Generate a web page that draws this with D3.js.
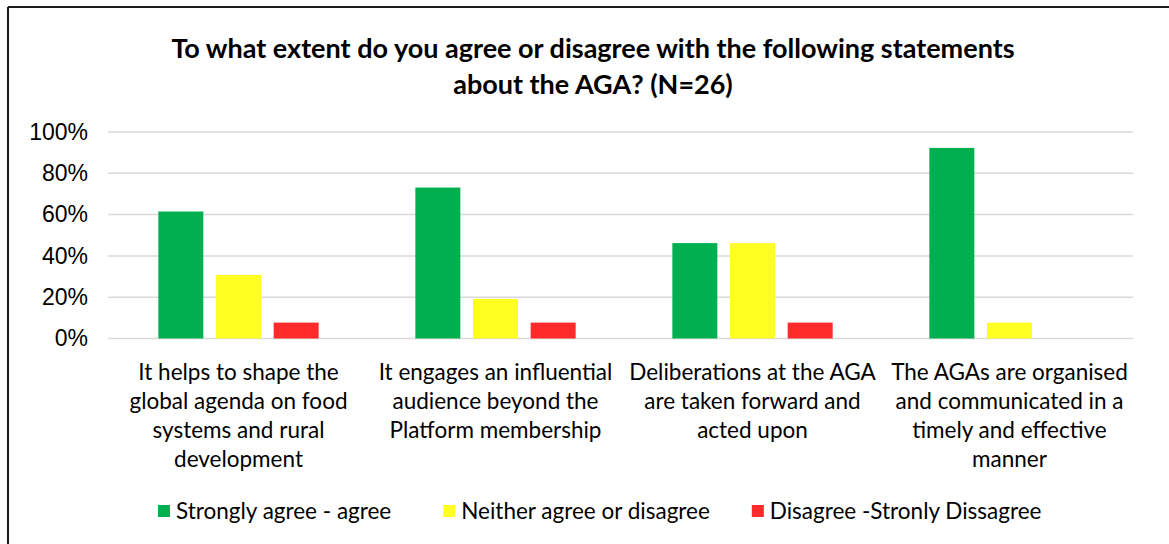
<!DOCTYPE html>
<html lang="en">
<head>
<meta charset="UTF-8">
<title>AGA survey</title>
<script src="https://cdn.jsdelivr.net/npm/d3@7/dist/d3.min.js"></script>
<style>
    body { margin: 0; background: #fff; }
    svg { display: block; }
</style>
</head>
<body>
<div id="chart"></div>
<script>
    // data (N=26)
    var categories = [
        ["It helps to shape the", "global agenda on food", "systems and rural", "development"],
        ["It engages an influential", "audience beyond the", "Platform membership"],
        ["Deliberations at the AGA", "are taken forward and", "acted upon"],
        ["The AGAs are organised", "and communicated in a", "timely and effective", "manner"]
    ];
    var seriesNames = ["Strongly agree - agree", "Neither agree or disagree", "Disagree -Stronly Dissagree"];
    var agree = [0.615, 0.731, 0.462, 0.923];
    var neither = [0.308, 0.192, 0.462, 0.077];
    var disagree = [0.077, 0.077, 0.077, 0];
    var yTicks = [0, 0.2, 0.4, 0.6, 0.8, 1];
    var colors = ["#00b050", "#ffff21", "#ff2a2a"];

    var W = 1169, H = 544;
    var labelFont = "Lato, 'Open Sans', sans-serif";

    var svg = d3.select("#chart").append("svg")
        .attr("width", W)
        .attr("height", H);

    // frame (only top and left edges are visible in the crop)
    svg.append("line").attr("x1", 8).attr("y1", 7).attr("x2", W).attr("y2", 7)
        .attr("stroke", "#1a1a1a").attr("stroke-width", 2);
    svg.append("line").attr("x1", 8).attr("y1", 7).attr("x2", 8).attr("y2", H)
        .attr("stroke", "#1a1a1a").attr("stroke-width", 2);

    // title
    var title = svg.append("text")
        .attr("text-anchor", "middle")
        .style("font-family", labelFont)
        .style("font-weight", "bold")
        .style("font-size", "27px")
        .attr("fill", "#000");
    title.append("tspan").attr("x", 593).attr("y", 58)
        .text("To what extent do you agree or disagree with the following statements");
    title.append("tspan").attr("x", 593).attr("y", 94)
        .text("about the AGA? (N=26)");

    var y = d3.scaleLinear().domain([0, 1]).range([338.5, 132]);

    var x0 = d3.scaleBand()
        .domain(d3.range(categories.length))
        .range([110, 1138])
        .padding(0);

    var groupW = 173;
    var x1 = d3.scaleBand()
        .domain(d3.range(seriesNames.length))
        .range([(x0.bandwidth() - groupW) / 2, (x0.bandwidth() + groupW) / 2])
        .paddingInner(0.22)
        .paddingOuter(0.11);

    // gridlines
    svg.append("g").selectAll("line")
        .data(yTicks)
        .join("line")
        .attr("x1", 108).attr("x2", 1133)
        .attr("y1", function (d) { return y(d); })
        .attr("y2", function (d) { return y(d); })
        .attr("stroke", "#d9d9d9")
        .attr("stroke-width", 1.5);

    // y axis labels
    var yAxis = d3.axisLeft(y)
        .tickValues(yTicks)
        .tickFormat(d3.format(".0%"))
        .tickSize(0)
        .tickPadding(0);
    var gy = svg.append("g")
        .attr("transform", "translate(88,0)")
        .call(yAxis);
    gy.select(".domain").remove();
    gy.selectAll("text")
        .style("font-family", "'Liberation Sans', Arial, sans-serif")
        .style("font-size", "23px")
        .attr("fill", "#000");

    // bars
    var allSeries = [agree, neither, disagree];
    var groups = svg.append("g").selectAll("g")
        .data(categories.map(function (c, i) { return i; }))
        .join("g")
        .attr("transform", function (i) { return "translate(" + x0(i) + ",0)"; });

    groups.selectAll("rect")
        .data(function (i) { return allSeries.map(function (s, k) { return { k: k, v: s[i] }; }); })
        .join("rect")
        .filter(function (d) { return d.v > 0; })
        .attr("x", function (d) { return x1(d.k); })
        .attr("width", x1.bandwidth())
        .attr("y", function (d) { return y(d.v); })
        .attr("height", function (d) { return y(0) - y(d.v); })
        .attr("fill", function (d) { return colors[d.k]; });

    // category labels
    var catLabels = svg.append("g").selectAll("text")
        .data(categories)
        .join("text")
        .attr("text-anchor", "middle")
        .style("font-family", labelFont)
        .style("font-size", "22.5px")
        .attr("fill", "#000");
    catLabels.each(function (lines, i) {
        var t = d3.select(this);
        lines.forEach(function (ln, j) {
            t.append("tspan")
                .attr("x", x0(i) + x0.bandwidth() / 2)
                .attr("y", 380 + j * 29)
                .text(ln);
        });
    });

    // legend
    var legend = svg.append("g");
    var lx = 158;
    var legendGap = [0, 52, 42];
    seriesNames.forEach(function (name, k) {
        lx += legendGap[k];
        legend.append("rect")
            .attr("x", lx).attr("y", 505)
            .attr("width", 12).attr("height", 12)
            .attr("fill", colors[k]);
        var t = legend.append("text")
            .attr("x", lx + 18).attr("y", 519)
            .style("font-family", labelFont)
            .style("font-size", "22.5px")
            .attr("fill", "#000")
            .text(name);
        lx += 18 + t.node().getComputedTextLength();
    });
</script>
</body>
</html>
